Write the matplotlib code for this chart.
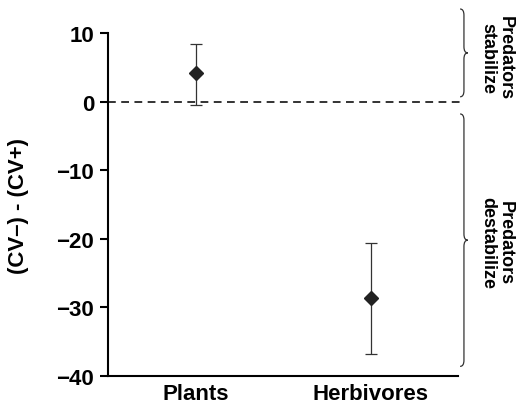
import numpy as np
import matplotlib
matplotlib.use("Agg")
import matplotlib.pyplot as plt
from matplotlib.path import Path
from matplotlib.patches import PathPatch
import matplotlib.transforms as mtransforms

plt.rcParams['font.family'] = ['Liberation Sans', 'DejaVu Sans']
plt.rcParams['font.weight'] = 'bold'

# data
groups = ['Plants', 'Herbivores']
means = [4.1, -28.7]
upper = [8.4, -20.6]
lower = [-0.5, -36.8]
yticks = [10, 0, -10, -20, -30, -40]

fig = plt.figure(figsize=(5.17, 4.06), dpi=100)
ax = fig.add_axes([108 / 517, 1 - 377 / 406, 350 / 517, 343 / 406])

x = np.arange(len(groups))
m = np.array(means)
err = [m - np.array(lower), np.array(upper) - m]
ax.errorbar(x, m, yerr=err, fmt='D', color='#222222', ecolor='#333333',
            elinewidth=0.9, capsize=4.5, capthick=0.9, markersize=7.5, zorder=3)

# reference line at zero
ax.axhline(0, xmin=0, xmax=1.012, color='#333333', lw=1.4, ls=(0, (4, 2.8)), clip_on=False)

ax.set_xlim(-0.5, 1.5)
ax.set_ylim(-40, 10)
ax.set_yticks(yticks)
ax.set_yticklabels([str(t).replace('-', '\u2212') for t in yticks])
ax.set_xticks(x)
ax.set_xticklabels(groups)
ax.tick_params(axis='y', length=6, width=1.5, labelsize=16, pad=4)
ax.tick_params(axis='x', length=0, labelsize=16, pad=5)
for s in ['top', 'right']:
    ax.spines[s].set_visible(False)
for s in ['left', 'bottom']:
    ax.spines[s].set_linewidth(1.5)

ax.set_ylabel('(CV\u2013) - (CV+)', fontsize=16, fontweight='bold')
ax.yaxis.set_label_coords(-0.225, 0.5)


def brace(ax, y0, y1, x0=1.006, w=0.022):
    # curly brace "}" from y0 (top) to y1 (bottom)
    trans = mtransforms.blended_transform_factory(ax.transAxes, ax.transData)
    ym = (y0 + y1) / 2
    xm = x0 + w / 2
    xt = x0 + w
    c = 0.9
    verts = [(x0, y0), (xm, y0), (xm, y0 - c),
             (xm, ym + c), (xm, ym), (xt, ym),
             (xm, ym), (xm, ym - c),
             (xm, y1 + c), (xm, y1), (x0, y1)]
    codes = [Path.MOVETO, Path.CURVE3, Path.CURVE3,
             Path.LINETO, Path.CURVE3, Path.CURVE3,
             Path.CURVE3, Path.CURVE3,
             Path.LINETO, Path.CURVE3, Path.CURVE3]
    ax.add_patch(PathPatch(Path(verts, codes), transform=trans, fill=False,
                           lw=0.9, color='#333333', clip_on=False))


brace(ax, 13.5, 0.7)
brace(ax, -1.8, -38.6)

tr = mtransforms.blended_transform_factory(ax.transAxes, ax.transData)
ax.text(1.11, 6.5, 'Predators\nstabilize', transform=tr,
        rotation=-90, ha='center', va='center', fontsize=13, fontweight='bold', linespacing=1.05)
ax.text(1.11, -20.5, 'Predators\ndestabilize', transform=tr,
        rotation=-90, ha='center', va='center', fontsize=13, fontweight='bold', linespacing=1.05)

fig.savefig('out.png', dpi=100)
